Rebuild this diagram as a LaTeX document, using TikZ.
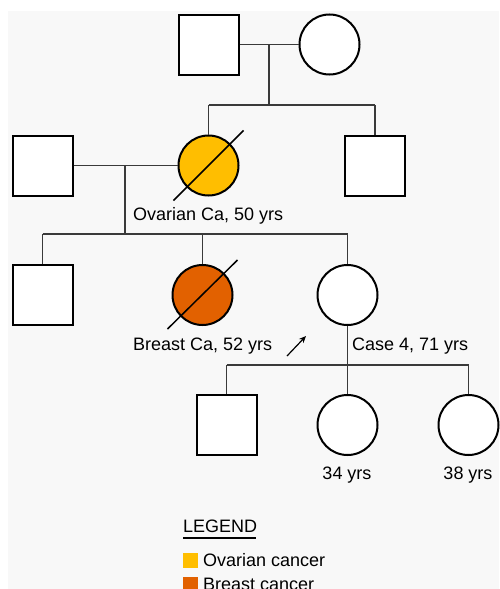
\documentclass[tikz,border=0pt]{standalone}
\usepackage{fontspec}
\setmainfont{Liberation Sans}
\usetikzlibrary{arrows.meta}
\definecolor{bgc}{HTML}{F8F8F8}
\definecolor{ovc}{HTML}{FFBE00}
\definecolor{brc}{HTML}{E26100}
\definecolor{conc}{HTML}{3A3A3A}
\tikzset{
  male/.style={draw=black,line width=2pt,fill=white,rectangle,minimum size=60pt,inner sep=0pt},
  female/.style={draw=black,line width=2pt,fill=white,circle,minimum size=60pt,inner sep=0pt},
  conn/.style={draw=conc,line width=1.3pt},
  dead/.style={draw=black,line width=1.5pt},
  lbl/.style={font=\fontsize{18}{20}\selectfont,inner sep=0pt,anchor=base west},
}
\begin{document}
\begin{tikzpicture}[x=1pt,y=-1pt]
\useasboundingbox (0,0) rectangle (499,589);
\fill[white] (0,0) rectangle (499,589);
\fill[bgc] (8,11) rectangle (499,589);
% generation 1
\node[male] (gf) at (208.5,44.5) {};
\node[female] (gm) at (329.5,44.5) {};
% generation 2
\node[male] (hb) at (42.5,165.5) {};
\node[female,fill=ovc] (ov) at (208.5,165.5) {};
\node[male] (un) at (375,165.5) {};
% generation 3
\node[male] (s1) at (42.5,295) {};
\node[female,fill=brc] (br) at (202.5,295) {};
\node[female] (pr) at (347.5,295) {};
% generation 4
\node[male] (c1) at (226.5,425) {};
\node[female] (c2) at (347.5,425) {};
\node[female] (c3) at (468.5,425) {};
% connectors
\coordinate (m1) at (269,44.5);
\coordinate (sib1) at (269,105);
\draw[conn] (gf) -- (gm);
\draw[conn] (m1) -- (sib1);
\draw[conn] (ov.north |- sib1) -- (un.north |- sib1);
\draw[conn] (ov.north |- sib1) -- (ov.north);
\draw[conn] (un.north |- sib1) -- (un.north);
\coordinate (m2) at (125,165.5);
\coordinate (sib2) at (125,234);
\draw[conn] (hb) -- (ov);
\draw[conn] (m2) -- (sib2);
\draw[conn] (s1.north |- sib2) -- (pr.north |- sib2);
\draw[conn] (s1.north |- sib2) -- (s1.north);
\draw[conn] (br.north |- sib2) -- (br.north);
\draw[conn] (pr.north |- sib2) -- (pr.north);
\coordinate (sib3) at (347.5,365);
\draw[conn] (pr.south) -- (c2.north);
\draw[conn] (c1.north |- sib3) -- (c3.north |- sib3);
\draw[conn] (c1.north |- sib3) -- (c1.north);
\draw[conn] (c3.north |- sib3) -- (c3.north);
% deceased strokes
\draw[dead] ([shift={(-35,35)}]ov.center) -- ([shift={(35,-35)}]ov.center);
\draw[dead] ([shift={(-35,34)}]br.center) -- ([shift={(35,-35)}]br.center);
% proband arrow
\coordinate (pa) at (287,356);
\coordinate (pb) at (306,336);
\draw[line width=1.2pt,-{Stealth[length=7pt,width=6pt]}] (pa) -- (pb);
% labels
\node[lbl] (lov) at (133,220) {Ovarian Ca, 50 yrs};
\node[lbl] (lbr) at (133,350) {Breast Ca, 52 yrs};
\node[lbl] (lpr) at (352,350) {Case 4, 71 yrs};
\node[lbl,anchor=base] (l34) at (347,479) {34 yrs};
\node[lbl,anchor=base] (l38) at (468,479) {38 yrs};
% legend
\node[lbl] (leg) at (183,532) {LEGEND};
\draw[line width=2pt] (leg.base west) ++(0,5.5) -- ++(73,0);
\fill[ovc] (183,553) rectangle (198,568);
\node[lbl] (lo) at (203,566) {Ovarian cancer};
\fill[brc] (183,577) rectangle (198,592);
\node[lbl] (lb) at (203,590) {Breast cancer};
\end{tikzpicture}
\end{document}
